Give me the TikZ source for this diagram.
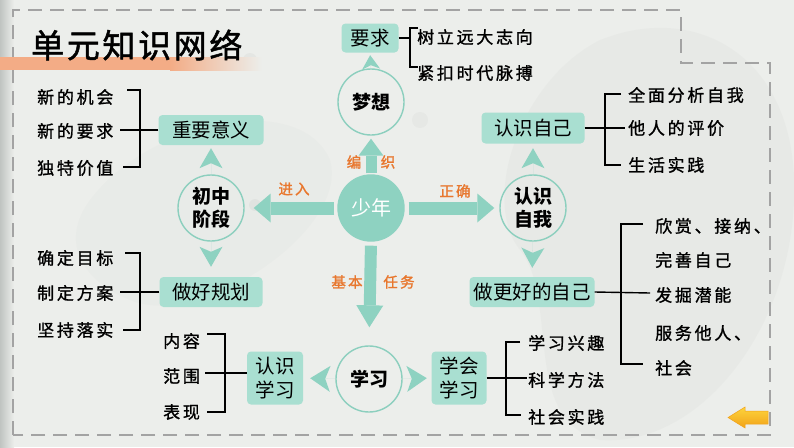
\documentclass[tikz,border=0pt]{standalone}
\usepackage{fontspec}
\setmainfont{Noto Sans CJK SC}
\newfontfamily\leaffont{Noto Sans CJK SC}[LetterSpace=16,FakeBold=1.2]
\newfontfamily\titlefont{Noto Sans CJK SC}[LetterSpace=8,FakeBold=1.5]
\newfontfamily\olabfont{Noto Sans CJK SC}[LetterSpace=15,FakeBold=1.5]
\usetikzlibrary{arrows.meta}
\definecolor{bgc}{HTML}{ECEEEB}
\definecolor{tealf}{HTML}{8ED2C1}
\definecolor{boxf}{HTML}{A9DFD1}
\definecolor{tealline}{HTML}{8CCFBE}
\definecolor{orangec}{HTML}{E8772E}
\definecolor{dashc}{HTML}{A3A3A3}
\definecolor{stripc}{HTML}{F3AC86}
\definecolor{yelt}{HTML}{FCD43C}
\definecolor{yelb}{HTML}{F2A219}
\definecolor{inkc}{HTML}{8A918D}
\begin{document}
\begin{tikzpicture}[x=1pt,y=-1pt,
  circ/.style={circle, draw=tealline, line width=1.4pt, minimum size=66pt, inner sep=0pt,
    font=\fontsize{19}{23}\selectfont\bfseries, align=center},
  boxn/.style={rounded corners=4pt, fill=boxf, inner sep=0pt,
    font=\fontsize{19.5}{24}\selectfont, align=center},
  leaf/.style={font=\leaffont\fontsize{17}{20}\selectfont, inner sep=0pt, anchor=west},
  olab/.style={text=orangec, font=\olabfont\fontsize{14.5}{16}\selectfont, inner sep=0pt},
  brk/.style={line width=1.4pt, black},
  bigarrow/.style={tealf, line width=13pt, -{Triangle[length=17pt,width=29pt,line width=0pt]}},
  smallhead/.style={tealf, line width=0.01pt, -{Stealth[length=20pt,width=23pt,inset=5pt,line width=0pt]}}
]
\useasboundingbox (0,0) rectangle (794,447);
% background
\fill[bgc] (0,0) rectangle (794,447);
\shade[left color=inkc!45!bgc, right color=bgc] (0,0) rectangle (14,447);
\fill[inkc, opacity=0.045] (600,40) .. controls (700,0) and (800,60) .. (794,200)
  .. controls (790,330) and (700,447) .. (600,440) .. controls (520,420) and (560,300) .. (520,250)
  .. controls (480,200) and (520,80) .. (600,40);
\fill[inkc, opacity=0.03] (90,200) .. controls (150,120) and (300,90) .. (330,160)
  .. controls (350,230) and (200,330) .. (130,300) .. controls (80,280) and (60,240) .. (90,200);
\fill[inkc, opacity=0.08] (250,60) circle (7);
\fill[inkc, opacity=0.08] (255,205) circle (6);
\fill[inkc, opacity=0.06] (420,120) circle (8);
% dashed frame
\draw[dashc, line width=2pt, dash pattern=on 14pt off 8pt]
  (13,435) -- (13,10) -- (681,10) -- (681,63) -- (770,63) -- (770,435) -- cycle;
% title strip and title
\fill[stripc] (0,57) rectangle (170,70);
\shade[left color=stripc, right color=bgc] (170,57) rectangle (262,70);
\node[font=\titlefont\fontsize{33}{36}\selectfont, anchor=west, inner sep=0pt] (title) at (31,45) {单元知识网络};

% circles
\node[circ, fill=tealf, draw=tealf, text=white, font=\fontsize{20}{24}\selectfont] (sn) at (371,208) {少年};
\node[circ] (mx) at (371,102) {梦想};
\node[circ] (cz) at (211,208) {初中\\阶段};
\node[circ] (rz) at (533,208) {认识\\自我};
\node[circ] (xx) at (369,379) {学习};

% boxes
\node[boxn, minimum width=57pt, minimum height=29pt] (yq) at (370,38) {要求};
\node[boxn, minimum width=105pt, minimum height=30pt] (zy) at (211,130) {重要意义};
\node[boxn, minimum width=103pt, minimum height=30pt] (gh) at (211,292) {做好规划};
\node[boxn, minimum width=103pt, minimum height=31pt] (rj) at (533,128) {认识自己};
\node[boxn, minimum width=125pt, minimum height=30pt] (zh) at (532,292) {做更好的自己};
\node[boxn, minimum width=56pt, minimum height=53pt] (rx) at (275,378) {认识\\学习};
\node[boxn, minimum width=55pt, minimum height=53pt] (hx) at (459,378) {学会\\学习};

% big arrows
\draw[bigarrow, line width=11pt, -{Triangle[length=17pt,width=25pt,line width=0pt]}, shorten <=1pt, shorten >=3pt] (sn.north) -- (mx.south);
\draw[bigarrow, shorten <=3pt, shorten >=9pt] (sn.west) -- (cz.east);
\draw[bigarrow, shorten <=4pt, shorten >=5pt] (sn.east) -- (rz.west);
\draw[bigarrow, line width=12pt, -{Triangle[length=22pt,width=27pt,line width=0pt]}, shorten <=4pt, shorten >=18pt] (sn.south) -- (xx.north);

% small arrowheads
\draw[smallhead, -{Stealth[length=14pt,width=18pt,inset=4pt,line width=0pt]}, shorten >=2.5pt] (mx.north) -- (yq.south);
\draw[smallhead, shorten >=3pt] (cz.north) -- (zy.south);
\draw[smallhead, shorten >=10pt] (cz.south) -- (gh.north);
\draw[smallhead, shorten >=4.5pt] (rz.north) -- (rj.south);
\draw[smallhead, shorten >=9pt] (rz.south) -- (zh.north);
\draw[smallhead, -{Stealth[length=20pt,width=26pt,inset=5pt,line width=0pt]}, shorten >=7pt] (xx.west) -- (rx.east);
\draw[smallhead, -{Stealth[length=20pt,width=26pt,inset=5pt,line width=0pt]}, shorten >=4.5pt] (xx.east) -- (hx.west);

% orange labels
\node[olab] (l1) at (294,189) {进入};
\node[olab] (l2) at (455,191) {正确};
\node[olab] (l3) at (354,162) {编};
\node[olab] (l4) at (388,162) {织};
\node[olab] (l5) at (347,282) {基本};
\node[olab] (l6) at (399,282) {任务};

% 要求 bracket
\node[leaf] (s1) at (417,37) {树立远大志向};
\node[leaf] (s2) at (417,73) {紧扣时代脉搏};
\draw[brk] (418,28) -| (410,67) -- (418,67);
\draw[brk] (yq.east) -- (410,38);

% 重要意义 bracket
\node[leaf] (a1) at (37,97) {新的机会};
\node[leaf] (a2) at (37,131) {新的要求};
\node[leaf] (a3) at (37,168) {独特价值};
\draw[brk] (127,90) -| (140,167) -- (123,167);
\draw[brk] (zy.west) -- (120,130);

% 做好规划 bracket
\node[leaf] (b1) at (37,258) {确定目标};
\node[leaf] (b2) at (37,293) {制定方案};
\node[leaf] (b3) at (37,330) {坚持落实};
\draw[brk] (125,253) -| (140,330) -- (123,330);
\draw[brk] (gh.west) -- (120,292);

% 认识学习 bracket
\node[leaf] (c1) at (163,341) {内容};
\node[leaf] (c2) at (163,376) {范围};
\node[leaf] (c3) at (163,412) {表现};
\draw[brk] (207,334) -| (225,412) -- (207,412);
\draw[brk] ([yshift=5pt]rx.west) -- (205,373);

% 学会学习 bracket
\node[leaf] (d1) at (528,343) {学习兴趣};
\node[leaf] (d2) at (528,380) {科学方法};
\node[leaf] (d3) at (528,417) {社会实践};
\draw[brk] (520,342) -| (506,415) -- (521,415);
\draw[brk] (hx.east) -- (527,378);

% 认识自己 bracket
\node[leaf] (e1) at (628,95) {全面分析自我};
\node[leaf] (e2) at (628,128) {他人的评价};
\node[leaf] (e3) at (628,165) {生活实践};
\draw[brk] (621,94) -| (605,165) -- (621,165);
\draw[brk] (rj.east) -- (625,128);

% 做更好的自己 bracket
\node[leaf] (f1) at (655,226) {欣赏、接纳、};
\node[leaf] (f2) at (655,260) {完善自己};
\node[leaf] (f3) at (655,295) {发掘潜能};
\node[leaf] (f4) at (655,333) {服务他人、};
\node[leaf] (f5) at (655,368) {社会};
\draw[brk] (643,224) -| (621,364) -- (643,364);
\draw[brk] (zh.east) -- (650,293);

% back arrow (yellow)
\path[top color=yelt, bottom color=yelb, draw=yelb, line width=0.5pt]
  (728,417.5) -- (745,407) -- (745,411) -- (768,411) -- (768,424) -- (745,424) -- (745,428) -- cycle;
\end{tikzpicture}
\end{document}
